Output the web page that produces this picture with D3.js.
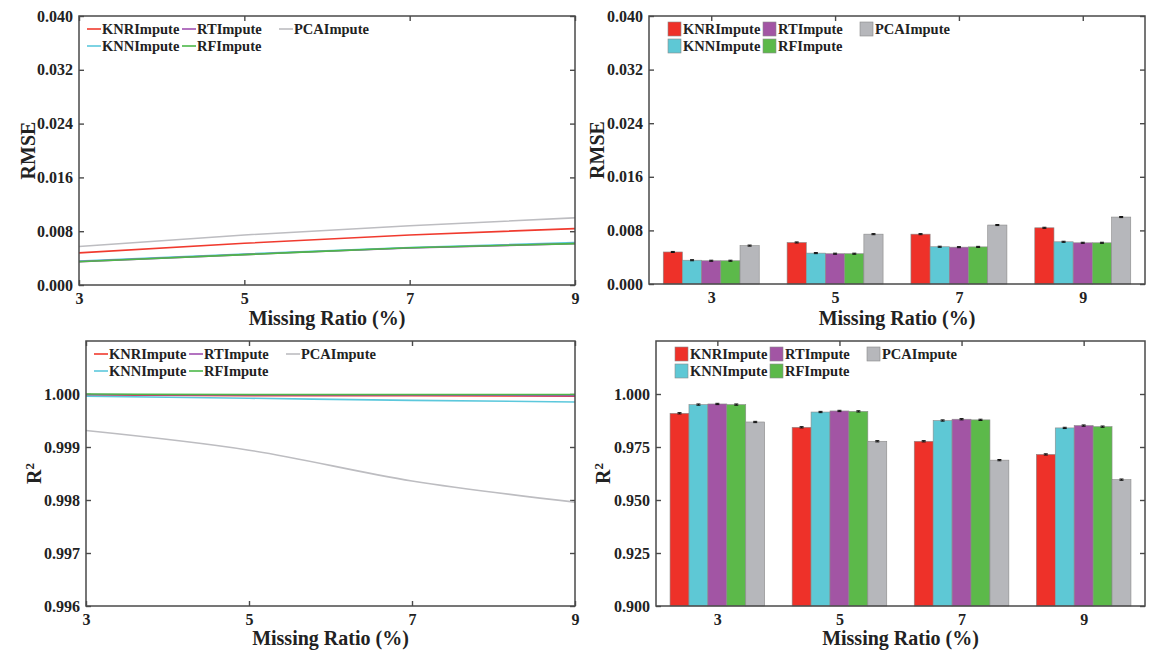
<!DOCTYPE html>
<html><head><meta charset="utf-8">
<script src="https://cdn.jsdelivr.net/npm/d3@7"></script>
<style>
body{margin:0;background:#fff;}
text{font-family:"Liberation Serif","Times New Roman",serif;font-weight:bold;fill:#222;}
</style></head>
<body><svg id="c" width="1159" height="652"></svg>
<script>
const ratios = [3, 5, 7, 9];
const methods = ["KNRImpute", "KNNImpute", "RTImpute", "RFImpute", "PCAImpute"];
const colors = ["#ee3129", "#5ec8d5", "#a255a4", "#5cb94a", "#b6b7bb"];
const lineColors = ["#f03a2e", "#5cc8dc", "#a050b0", "#4cb848", "#bdbdc1"];
const legendOrder = ["KNRImpute", "RTImpute", "PCAImpute", "KNNImpute", "RFImpute"];

// RMSE values (lines & bars)
const rmseKNR = [0.00478, 0.00620, 0.00744, 0.00839];
const rmseKNN = [0.00355, 0.00461, 0.00556, 0.00630];
const rmseRT  = [0.00347, 0.00452, 0.00550, 0.00615];
const rmseRF  = [0.00347, 0.00452, 0.00554, 0.00615];
const rmsePCA = [0.00573, 0.00744, 0.00880, 0.00999];
const rmseErr = [0.00008, 0.00008, 0.00008, 0.00008];

// R2 line values
const r2LineKNR = [0.99998, 0.99997, 0.99997, 0.99996];
const r2LineKNN = [0.99996, 0.99992, 0.99988, 0.99985];
const r2LineRT  = [0.99999, 0.99998, 0.99998, 0.99997];
const r2LineRF  = [1.00000, 0.99999, 0.99999, 0.99999];
const r2LinePCA = [0.99931, 0.99894, 0.99836, 0.99796];

// R2 bar values
const r2BarKNR = [0.9909, 0.9843, 0.9777, 0.9715];
const r2BarKNN = [0.9950, 0.9915, 0.9875, 0.9840];
const r2BarRT  = [0.9953, 0.9920, 0.9881, 0.9851];
const r2BarRF  = [0.9950, 0.9918, 0.9878, 0.9846];
const r2BarPCA = [0.9868, 0.9777, 0.9688, 0.9596];
const r2Err = [0.0003, 0.0003, 0.0003, 0.0003];

const rmseTicks = [0, 0.008, 0.016, 0.024, 0.032, 0.040];
const r2LineTicks = [0.996, 0.997, 0.998, 0.999, 1.000];
const r2BarTicks = [0.900, 0.925, 0.950, 0.975, 1.000];

const rmseSeries = [rmseKNR, rmseKNN, rmseRT, rmseRF, rmsePCA];
const r2LineSeries = [r2LineKNR, r2LineKNN, r2LineRT, r2LineRF, r2LinePCA];
const r2BarSeries = [r2BarKNR, r2BarKNN, r2BarRT, r2BarRF, r2BarPCA];

const svg = d3.select("#c");
const FRAME = "#4a4a4a";

function panel(box, yDomain, yTicks, yFmt, yLabel, sup) {
  const g = svg.append("g");
  const y = d3.scaleLinear().domain(yDomain).range([box.y1, box.y0]);
  g.append("g").attr("transform", `translate(${box.x0},0)`)
    .call(d3.axisLeft(y).tickValues(yTicks).tickFormat(d3.format(yFmt)).tickSizeInner(-5).tickSizeOuter(0).tickPadding(6))
    .call(a => { a.select(".domain").remove(); a.selectAll("line").attr("stroke", FRAME).attr("stroke-width", 1.4);
      a.selectAll("text").attr("font-size", 16).style("fill", "#222"); });
  g.append("g").attr("transform", `translate(${box.x1},0)`)
    .call(d3.axisRight(y).tickValues(yTicks).tickFormat("").tickSizeInner(-5).tickSizeOuter(0))
    .call(a => { a.select(".domain").remove(); a.selectAll("line").attr("stroke", FRAME).attr("stroke-width", 1.4); });
  const t = g.append("text").attr("transform", `translate(${box.ylx},${(box.y0 + box.y1) / 2}) rotate(-90)`)
    .attr("text-anchor", "middle").attr("dy", "0.35em").attr("font-size", 20).text(yLabel);
  if (sup) t.append("tspan").attr("dy", "-0.55em").attr("font-size", 13).text(sup);
  g.append("text").attr("x", (box.x0 + box.x1) / 2).attr("y", box.xty).attr("text-anchor", "middle")
    .attr("font-size", 20).text("Missing Ratio (%)");
  return {g, y};
}

function frame(g, box) {
  g.append("rect").attr("x", box.x0).attr("y", box.y0).attr("width", box.x1 - box.x0).attr("height", box.y1 - box.y0)
    .attr("fill", "none").attr("stroke", FRAME).attr("stroke-width", 1.5);
}

function xAxes(g, box, scale) {
  g.append("g").attr("transform", `translate(0,${box.y1})`)
    .call(d3.axisBottom(scale).tickValues(ratios).tickFormat(d3.format("d")).tickSizeInner(-5).tickSizeOuter(0).tickPadding(8))
    .call(a => { a.select(".domain").remove(); a.selectAll("line").attr("stroke", FRAME).attr("stroke-width", 1.4);
      a.selectAll("text").attr("font-size", 16).style("fill", "#222"); });
  g.append("g").attr("transform", `translate(0,${box.y0})`)
    .call(d3.axisTop(scale).tickValues(ratios).tickFormat("").tickSizeInner(-5).tickSizeOuter(0))
    .call(a => { a.select(".domain").remove(); a.selectAll("line").attr("stroke", FRAME).attr("stroke-width", 1.4); });
}

function linePanel(box, series, yDomain, yTicks, yFmt, yLabel, sup) {
  const {g, y} = panel(box, yDomain, yTicks, yFmt, yLabel, sup);
  const x = d3.scaleLinear().domain([3, 9]).range([box.x0, box.x1]);
  xAxes(g, box, x);
  const line = d3.line().x((d, i) => x(ratios[i])).y(d => y(d)).curve(d3.curveMonotoneX);
  const order = [4, 0, 1, 2, 3];
  order.forEach(k => {
    g.append("path").attr("d", line(series[k])).attr("fill", "none")
      .attr("stroke", lineColors[k]).attr("stroke-width", 1.6);
  });
  frame(g, box);
  legend(g, box, "line");
}

function barPanel(box, series, err, yDomain, yTicks, yFmt, yLabel, sup) {
  const {g, y} = panel(box, yDomain, yTicks, yFmt, yLabel, sup);
  const x0 = d3.scaleBand().domain(ratios).range([box.x0, box.x1]).paddingInner(0.225).paddingOuter(0.115);
  const x1 = d3.scaleBand().domain(d3.range(methods.length)).range([0, x0.bandwidth()]);
  xAxes(g, box, d3.scalePoint().domain(ratios).range([x0(3) + x0.bandwidth() / 2, x0(9) + x0.bandwidth() / 2]));
  ratios.forEach((r, ri) => {
    methods.forEach((m, k) => {
      const v = series[k][ri];
      const bx = x0(r) + x1(k);
      g.append("rect").attr("x", bx).attr("y", y(v)).attr("width", x1.bandwidth())
        .attr("height", box.y1 - y(v)).attr("fill", colors[k]).attr("stroke", "#8a8a8a").attr("stroke-width", 0.6);
      const cx = bx + x1.bandwidth() / 2;
      const e = err[ri];
      g.append("line").attr("x1", cx).attr("x2", cx).attr("y1", y(v + e)).attr("y2", y(v - e))
        .attr("stroke", "#111").attr("stroke-width", 1);
      [v + e, v - e].forEach(w => g.append("line").attr("x1", cx - 2).attr("x2", cx + 2)
        .attr("y1", y(w)).attr("y2", y(w)).attr("stroke", "#111").attr("stroke-width", 1));
    });
  });
  frame(g, box);
  legend(g, box, "bar");
}

function legend(g, box, kind) {
  const colX = kind === "line" ? [8, 103, 200] : [19, 114, 211];
  const rowY = [box.y0 + 13, box.y0 + 30];
  legendOrder.forEach((m, i) => {
    const k = methods.indexOf(m);
    const col = i < 3 ? i : i - 3;
    const row = i < 3 ? 0 : 1;
    const lx = box.x0 + colX[col];
    const ly = rowY[row];
    if (kind === "line") {
      g.append("line").attr("x1", lx).attr("x2", lx + 14).attr("y1", ly).attr("y2", ly)
        .attr("stroke", lineColors[k]).attr("stroke-width", 1.6);
    } else {
      g.append("rect").attr("x", lx).attr("y", ly - 7).attr("width", 13).attr("height", 14)
        .attr("fill", colors[k]).attr("stroke", "#8a8a8a").attr("stroke-width", 0.6);
    }
    g.append("text").attr("x", lx + 15).attr("y", ly).attr("dy", "0.35em").attr("font-size", 14.5).text(m);
  });
}

linePanel({x0: 79, x1: 575, y0: 16, y1: 285, ylx: 28, xty: 325}, rmseSeries, [0, 0.04], rmseTicks, ".3f", "RMSE");
barPanel({x0: 649, x1: 1145, y0: 16, y1: 284, ylx: 597, xty: 325}, rmseSeries, rmseErr, [0, 0.04], rmseTicks, ".3f", "RMSE");
linePanel({x0: 86, x1: 575, y0: 341, y1: 606, ylx: 34, xty: 645}, r2LineSeries, [0.996, 1.001], r2LineTicks, ".3f", "R", "2");
barPanel({x0: 656, x1: 1145, y0: 341, y1: 606, ylx: 603, xty: 645}, r2BarSeries, r2Err, [0.9, 1.025], r2BarTicks, ".3f", "R", "2");
</script></body></html>
